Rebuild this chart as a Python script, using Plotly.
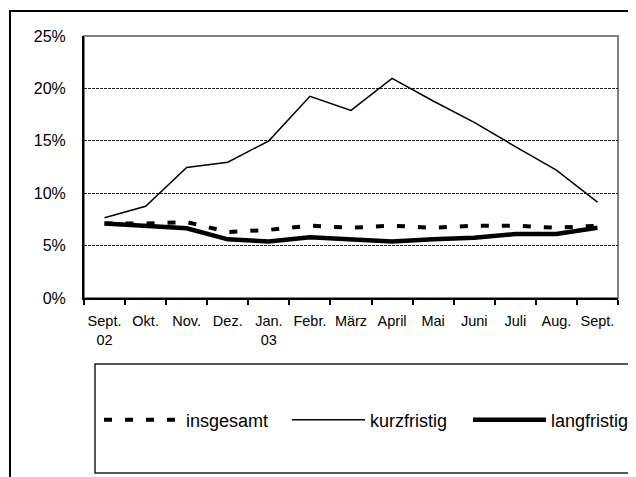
import plotly.graph_objects as go

# Monthly categories (Sept. 02 .. Sept. 03)
months = ["Sept.<br>02", "Okt.", "Nov.", "Dez.", "Jan.<br>03", "Febr.", "März",
          "April", "Mai", "Juni", "Juli", "Aug.", "Sept."]

# Values in percent
insgesamt = [7.1, 7.1, 7.25, 6.3, 6.5, 6.9, 6.7, 6.9, 6.7, 6.9, 6.9, 6.7, 6.9]
kurzfristig = [7.65, 8.75, 12.45, 12.95, 15.0, 19.25, 17.9, 20.95, 18.8, 16.75, 14.45, 12.2, 9.15]
langfristig = [7.1, 6.9, 6.65, 5.6, 5.4, 5.8, 5.6, 5.4, 5.6, 5.75, 6.1, 6.1, 6.7]

y_ticks = [0, 5, 10, 15, 20, 25]
y_labels = [f"{v}%" for v in y_ticks]

FONT = "Liberation Sans, Arial, sans-serif"
# the page body adds an 8px margin, so the figure is 8px smaller and all
# screen positions below are shifted by OFF
OFF = 8
W, H = 636 - OFF, 477 - OFF
L, R, T, B = 84 - OFF, 18, 36 - OFF, 179


def px_x(p):
    return (p - OFF - L) / (W - L - R)


def px_y(p):
    return (H - B - (p - OFF)) / (H - T - B)


x = list(range(len(months)))

fig = go.Figure()

fig.add_trace(go.Scatter(
    x=x, y=insgesamt, name="insgesamt", mode="lines", legend="legend",
    line=dict(color="black", width=4, dash="8px,13px"),
))
fig.add_trace(go.Scatter(
    x=x, y=kurzfristig, name="kurzfristig", mode="lines", legend="legend2",
    line=dict(color="black", width=1.5),
))
fig.add_trace(go.Scatter(
    x=x, y=langfristig, name="langfristig", mode="lines", legend="legend3",
    line=dict(color="black", width=4.5),
))

# outer chart frame, plot-area frame (grey top/right) and legend box
fig.add_shape(type="rect", xref="paper", yref="paper",
              x0=px_x(10), x1=px_x(645), y0=px_y(485), y1=px_y(11),
              line=dict(color="black", width=2), layer="below")
fig.add_shape(type="rect", xref="paper", yref="paper",
              x0=0, x1=1, y0=0, y1=1,
              line=dict(color="#808080", width=2), layer="below")
fig.add_shape(type="rect", xref="paper", yref="paper",
              x0=px_x(95), x1=px_x(632), y0=px_y(473), y1=px_y(364),
              line=dict(color="#202020", width=1.5), layer="below")


def legend_at(px_left, item_w):
    return dict(
        orientation="h",
        x=px_x(px_left), xanchor="left",
        y=px_y(420), yanchor="middle",
        font=dict(size=18, family=FONT),
        bgcolor="rgba(0,0,0,0)",
        borderwidth=0,
        itemwidth=item_w,
    )


fig.update_layout(
    width=W, height=H,
    margin=dict(l=L, r=R, t=T, b=B, autoexpand=False),
    paper_bgcolor="white",
    plot_bgcolor="white",
    font=dict(family=FONT, color="black"),
    showlegend=True,
    legend=legend_at(99, 77),
    legend2=legend_at(287, 73),
    legend3=legend_at(468, 73),
    xaxis=dict(
        range=[-0.5, len(months) - 0.5],
        tickmode="array", tickvals=x, ticktext=months,
        ticks="", showgrid=False, zeroline=False,
        showline=True, linecolor="black", linewidth=2,
        tickfont=dict(size=14.5, family=FONT),
        ticklabelstandoff=9,
        minor=dict(tick0=-0.5, dtick=1, ticks="outside", ticklen=5,
                   tickcolor="black", tickwidth=1.5, showgrid=False),
    ),
    yaxis=dict(
        range=[0, 25],
        tickmode="array", tickvals=y_ticks, ticktext=y_labels,
        ticks="", showgrid=True, gridcolor="#202020", gridwidth=1,
        griddash="3px,1px", zeroline=False,
        showline=True, linecolor="black", linewidth=2,
        tickfont=dict(size=16, family=FONT),
        ticklabelstandoff=13,
    ),
)

fig.write_html("out.html")
